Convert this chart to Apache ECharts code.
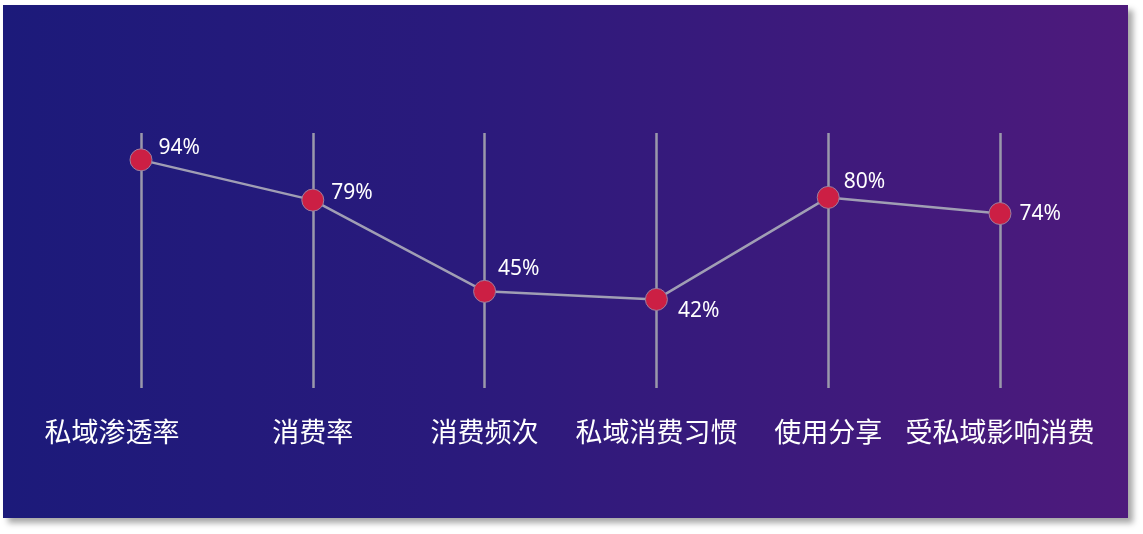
<!DOCTYPE html>
<html>
<head>
<meta charset="utf-8">
<script src="https://cdn.jsdelivr.net/npm/echarts@6/dist/echarts.min.js"></script>
<style>
html,body{margin:0;padding:0;background:#ffffff;width:1143px;height:534px;overflow:hidden;}
#panel{position:absolute;left:3px;top:5px;width:1125px;height:513px;
background:linear-gradient(to right,#1c1a7a 0%,#2a1a7c 40%,#4e1a7c 100%);
box-shadow:5px 5px 6px rgba(0,0,0,0.35);}
#chart{position:absolute;left:0;top:0;width:1143px;height:534px;}
</style>
</head>
<body>
<div id="panel"></div>
<div id="chart"></div>
<script>
var categories = ['私域渗透率','消费率','消费频次','私域消费习惯','使用分享','受私域影响消费'];
var values = [94, 79, 45, 42, 80, 74];
var labelOffsets = [[1,-12],[2,-7],[-3,-22],[5,12],[-1,-15],[3,0]];

var chart = echarts.init(document.getElementById('chart'), null, {renderer:'canvas'});
var catData = categories.map(function(c,i){
  return i === 0 ? {value:c, textStyle:{padding:[0,58,0,0]}} : c;
});
var seriesData = values.map(function(v,i){
  return {value:v, label:{offset:labelOffsets[i]}};
});
chart.setOption({
  backgroundColor:'transparent',
  grid:{left:141, right:143, top:133, bottom:146},
  xAxis:{
    type:'category', boundaryGap:false, data:catData,
    axisLine:{show:false}, axisTick:{show:false},
    splitLine:{show:true, interval:0, lineStyle:{color:'#9a98ab', width:2.5}},
    axisLabel:{color:'#ffffff', fontSize:27, margin:30, interval:0, fontFamily:'Noto Sans CJK SC'}
  },
  yAxis:{
    type:'value', min:9, max:104, show:false
  },
  series:[{
    type:'line', data:seriesData,
    lineStyle:{color:'#a09eb4', width:2.5},
    symbol:'circle', symbolSize:22,
    itemStyle:{color:'#cc1f44', borderColor:'#9a7fa0', borderWidth:1},
    label:{show:true, position:'right', formatter:'{c}%', color:'#ffffff', fontSize:21,
      fontFamily:'Noto Sans, sans-serif'},
    z:3
  }]
});
</script>
</body>
</html>
